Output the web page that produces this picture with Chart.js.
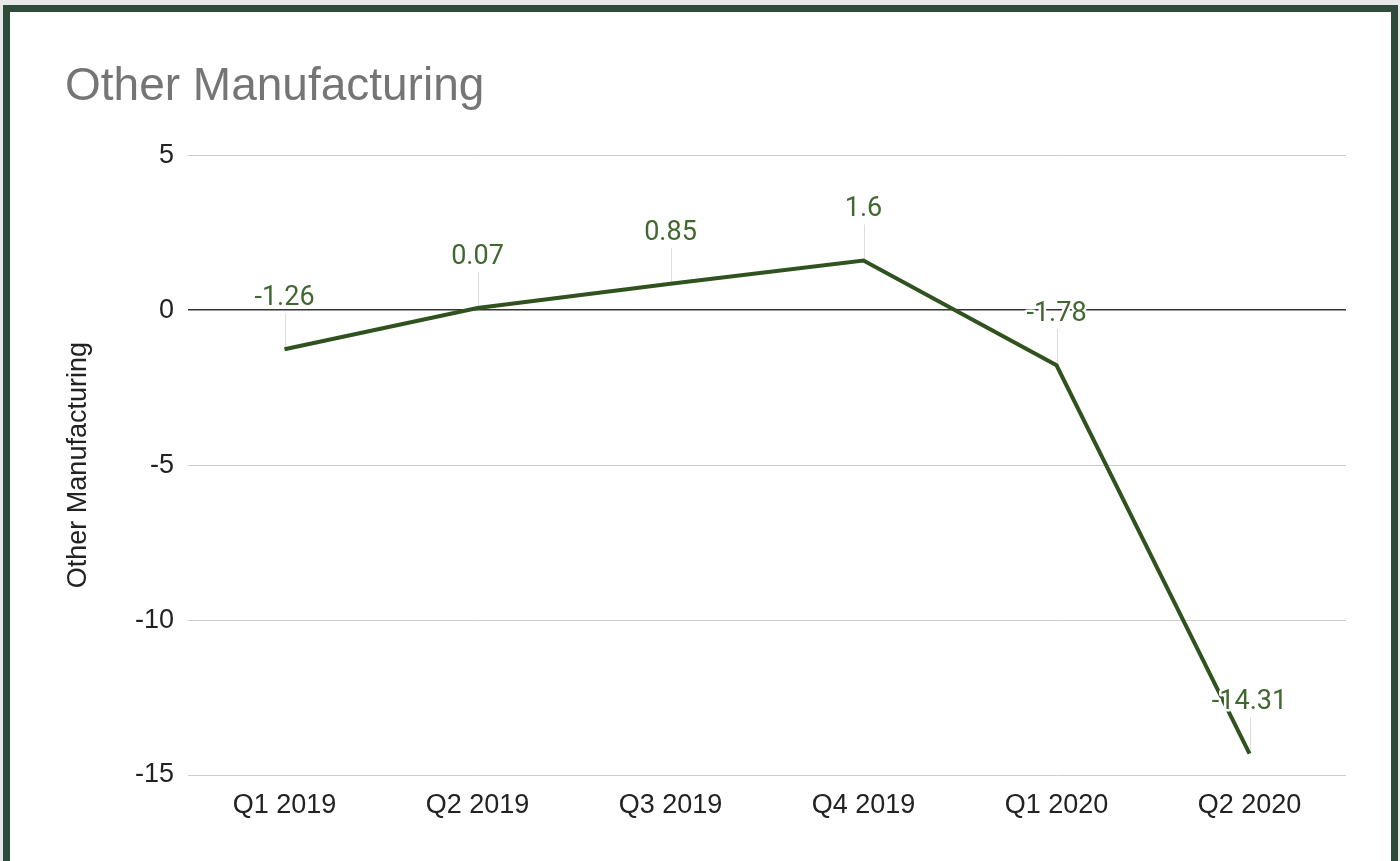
<!DOCTYPE html>
<html>
<head>
<meta charset="utf-8">
<script src="https://cdn.jsdelivr.net/npm/chart.js@4.4.1/dist/chart.umd.min.js"></script>
<style>
  html, body { margin: 0; padding: 0; background: #e7e8e7; overflow: hidden; }
  #frame {
    position: absolute; left: 3px; top: 5px;
    width: 1381px; height: 860px;
    border: 7px solid #2d4a3a; border-bottom: none;
    background: #ffffff;
  }
  #wrap { position: absolute; left: 0; top: 0; width: 1381px; height: 849px; }
</style>
</head>
<body>
<div id="frame"><div id="wrap"><canvas id="c" width="1381" height="849"></canvas></div></div>
<script>
const categories = ["Q1 2019", "Q2 2019", "Q3 2019", "Q4 2019", "Q1 2020", "Q2 2020"];
const values = [-1.26, 0.07, 0.85, 1.6, -1.78, -14.31];
const valueLabels = ["-1.26", "0.07", "0.85", "1.6", "-1.78", "-14.31"];
const yTicks = [-15, -10, -5, 0, 5];
const chartTitle = "Other Manufacturing";
const seriesName = "Other Manufacturing";

const lineColor = "#30521f";
const labelColor = "#40682f";

const dataLabelPlugin = {
  id: "dataLabels",
  beforeDatasetsDraw(chart) {
    const ctx = chart.ctx;
    const meta = chart.getDatasetMeta(0);
    ctx.save();
    ctx.strokeStyle = "#dddddd";
    ctx.lineWidth = 1;
    meta.data.forEach((pt) => {
      ctx.beginPath();
      ctx.moveTo(Math.round(pt.x) + 0.5, pt.y);
      ctx.lineTo(Math.round(pt.x) + 0.5, pt.y - 36);
      ctx.stroke();
    });
    ctx.restore();
  },
  afterDatasetsDraw(chart) {
    const ctx = chart.ctx;
    const meta = chart.getDatasetMeta(0);
    ctx.save();
    ctx.font = "27px Roboto, 'Liberation Sans', Arial, sans-serif";
    ctx.textAlign = "center";
    ctx.textBaseline = "middle";
    meta.data.forEach((pt, i) => {
      const ty = pt.y - 51;
      ctx.lineJoin = "round";
      ctx.strokeStyle = "#ffffff";
      ctx.lineWidth = 5;
      ctx.strokeText(valueLabels[i], pt.x, ty);
      ctx.fillStyle = labelColor;
      ctx.fillText(valueLabels[i], pt.x, ty);
    });
    ctx.restore();
  }
};

new Chart(document.getElementById("c"), {
  type: "line",
  data: {
    labels: categories,
    datasets: [{
      label: seriesName,
      data: values,
      borderColor: lineColor,
      backgroundColor: lineColor,
      borderWidth: 4,
      pointRadius: 0,
      pointHoverRadius: 0,
      tension: 0,
      fill: false
    }]
  },
  options: {
    responsive: false,
    animation: false,
    events: [],
    layout: { padding: { left: 55, right: 45, top: 0, bottom: 0 } },
    plugins: {
      legend: { display: false },
      tooltip: { enabled: false },
      title: {
        display: true,
        text: chartTitle,
        align: "start",
        color: "#757575",
        font: { family: "'Liberation Sans', Arial, sans-serif", size: 46, weight: "normal", lineHeight: 1.2 },
        padding: { top: 48, bottom: 40 }
      }
    },
    scales: {
      x: {
        offset: true,
        grid: { display: false, drawTicks: false },
        border: { display: false },
        ticks: {
          color: "#222222",
          padding: 14,
          maxRotation: 0,
          font: { family: "'Liberation Sans', Arial, sans-serif", size: 27 }
        },
        afterFit(scale) { scale.height = 86; }
      },
      y: {
        min: -15,
        max: 5,
        afterBuildTicks(scale) { scale.ticks = yTicks.map(v => ({ value: v })); },
        grid: {
          drawTicks: false,
          color: (c) => (c.tick && c.tick.value === 0) ? "#333333" : "#cccccc",
          lineWidth: (c) => (c.tick && c.tick.value === 0) ? 1.5 : 1
        },
        border: { display: false },
        ticks: {
          color: "#222222",
          padding: 14,
          font: { family: "'Liberation Sans', Arial, sans-serif", size: 27 }
        },
        title: {
          display: true,
          text: seriesName,
          color: "#222222",
          padding: { top: 0, bottom: 0 },
          font: { family: "'Liberation Sans', Arial, sans-serif", size: 27, lineHeight: 1 }
        },
        afterFit(scale) { scale.width = 123; }
      }
    }
  },
  plugins: [dataLabelPlugin]
});
</script>
</body>
</html>
